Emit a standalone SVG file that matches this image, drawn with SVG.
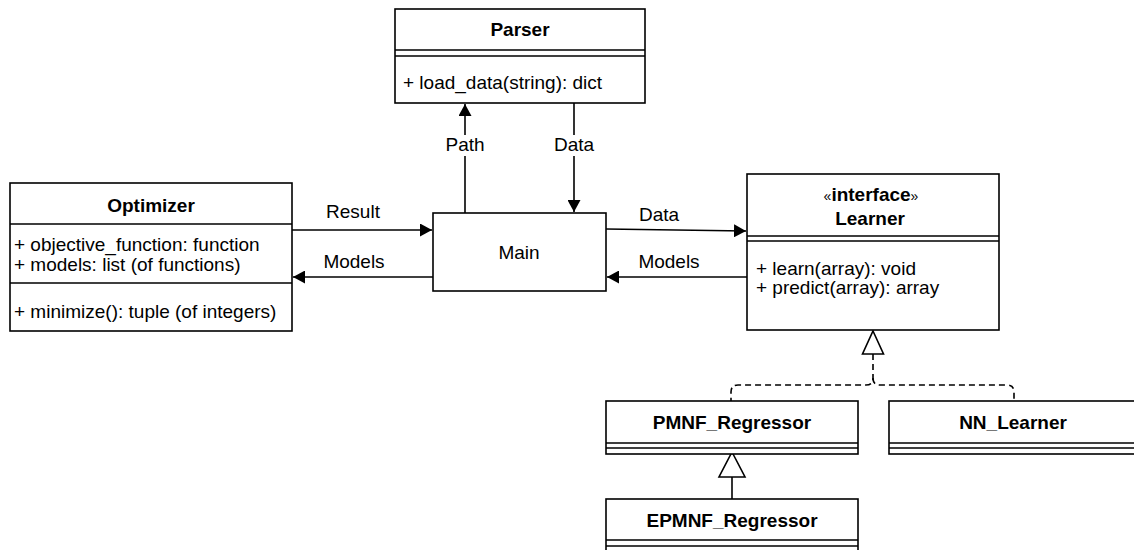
<svg xmlns="http://www.w3.org/2000/svg" width="1134" height="550" viewBox="0 0 1134 550">
<style>
.box{fill:#fff;stroke:#000;stroke-width:1.6}
.ln{stroke:#000;stroke-width:1.6;fill:none}
.t{font-family:"Liberation Sans",Arial,Helvetica,sans-serif;font-size:19px;fill:#000}
.b{font-weight:bold}
.c{text-anchor:middle}
.dash{stroke-dasharray:6 4}
</style>
<defs>
<marker id="arr" viewBox="0 0 12 13" refX="12" refY="6.5" markerWidth="12" markerHeight="13" markerUnits="userSpaceOnUse" orient="auto">
<path d="M0,0 L12,6.5 L0,13 Z" fill="#000"/>
</marker>
</defs>
<rect width="1134" height="550" fill="#fff"/>

<g id="connectors">
<path class="ln" d="M465,213 L465,104" marker-end="url(#arr)"/>
<path class="ln" d="M574,103 L574,212" marker-end="url(#arr)"/>
<rect x="445" y="135" width="40" height="21" fill="#fff"/>
<text class="t c" x="465" y="151">Path</text>
<rect x="553" y="135" width="42" height="21" fill="#fff"/>
<text class="t c" x="574" y="151">Data</text>
<path class="ln" d="M292,230 L432,230" marker-end="url(#arr)"/>
<text class="t c" x="353" y="218">Result</text>
<path class="ln" d="M433,277 L293,277" marker-end="url(#arr)"/>
<text class="t c" x="354" y="268">Models</text>
<path class="ln" d="M606,229 L746,231" marker-end="url(#arr)"/>
<text class="t c" x="659" y="221">Data</text>
<path class="ln" d="M747,277 L607,277" marker-end="url(#arr)"/>
<text class="t c" x="669" y="268">Models</text>
<path class="ln dash" d="M873,354 L873,378 Q873,385 866,385 L738,385 Q731,385 731,392 L731,401"/>
<path class="ln dash" d="M873,378 Q873,385 880,385 L1007,385 Q1014,385 1014,392 L1014,401"/>
<path class="box" d="M873,331 L883.5,354 L862.5,354 Z"/>
<path class="ln" d="M732,477 L732,499"/>
<path class="box" d="M732,452 L745,477 L719,477 Z"/>
</g>

<g id="parser">
<rect class="box" x="395" y="9" width="250" height="94"/>
<path class="ln" d="M395,50 L645,50 M395,56 L645,56"/>
<text class="t b c" x="520" y="36">Parser</text>
<text class="t" x="403" y="89">+ load_data(string): dict</text>
</g>

<g id="optimizer">
<rect class="box" x="10" y="183" width="282" height="148"/>
<path class="ln" d="M10,224 L292,224 M10,283 L292,283"/>
<text class="t b c" x="151" y="212">Optimizer</text>
<text class="t" x="14" y="251">+ objective_function: function</text>
<text class="t" x="14" y="271">+ models: list (of functions)</text>
<text class="t" x="14" y="318">+ minimize(): tuple (of integers)</text>
</g>

<g id="main">
<rect class="box" x="433" y="213" width="173" height="78"/>
<text class="t c" x="519" y="259">Main</text>
</g>

<g id="learner">
<rect class="box" x="747" y="174" width="252" height="156"/>
<path class="ln" d="M747,236 L999,236 M747,241 L999,241"/>
<text class="t b c" x="871" y="201"><tspan font-weight="normal" font-size="14">«</tspan>interface<tspan font-weight="normal" font-size="14">»</tspan></text>
<text class="t b c" x="870" y="225">Learner</text>
<text class="t" x="756" y="275">+ learn(array): void</text>
<text class="t" x="756" y="294">+ predict(array): array</text>
</g>

<g id="pmnf">
<rect class="box" x="606" y="401" width="252" height="53"/>
<path class="ln" d="M606,443 L858,443 M606,448 L858,448"/>
<text class="t b c" x="732" y="429">PMNF_Regressor</text>
</g>

<g id="nn">
<rect class="box" x="889" y="401" width="252" height="53"/>
<path class="ln" d="M889,443 L1141,443 M889,448 L1141,448"/>
<text class="t b c" x="1013" y="429">NN_Learner</text>
</g>

<g id="epmnf">
<rect class="box" x="606" y="499" width="252" height="53"/>
<path class="ln" d="M606,540 L858,540 M606,546 L858,546"/>
<text class="t b c" x="732" y="527">EPMNF_Regressor</text>
</g>
</svg>
